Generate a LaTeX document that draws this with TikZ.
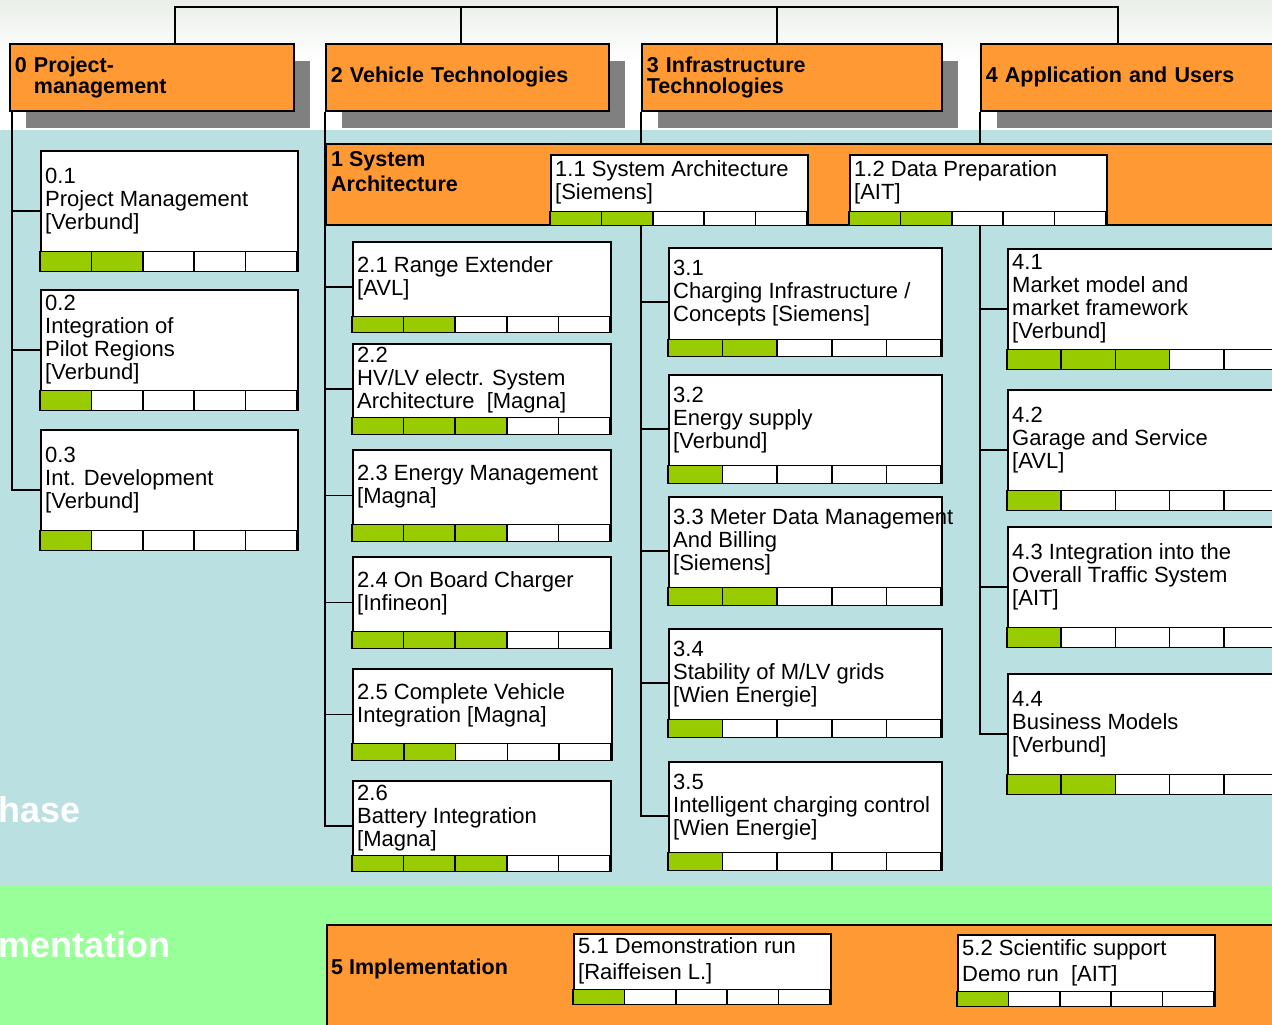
\documentclass[tikz,border=0pt]{standalone}
\usepackage{fontspec}
\setmainfont{Liberation Sans}
\usetikzlibrary{shadows}

\definecolor{wporange}{RGB}{255,153,51}
\definecolor{wpgreen}{RGB}{153,204,0}
\definecolor{bgblue}{RGB}{186,224,226}
\definecolor{bggreen}{RGB}{153,255,153}
\definecolor{bgtop}{RGB}{234,239,232}
\definecolor{shadowgray}{RGB}{128,128,128}

% work package: name, north west corner, width, height, bar height, done cells, text
\newcommand{\wpbox}[7]{%
  \node[wp, minimum width=#3pt, minimum height=#4pt] (#1) at #2 {};
  \node[wptext, yshift={#5pt/2}] (#1t) at (#1.west) {#7};
  \foreach \i in {1,...,5}{
    \ifnum\i>#6\relax \def\cellcol{white}\else \def\cellcol{wpgreen}\fi
    \draw[cell, fill=\cellcol] (#1.south west) ++({(\i-1)*#3/5},0) rectangle ++({#3/5},-#5);
  }
}

\begin{document}
\begin{tikzpicture}
        [x=1pt, y=-1pt,
        head/.style={draw, fill=wporange, line width=1.6pt, anchor=north west, minimum height=67pt, inner xsep=5pt, align=left,
          font=\bfseries\fontsize{21.5}{21}\selectfont,
          drop shadow={shadow xshift=16pt, shadow yshift=-17pt, fill=shadowgray, opacity=1}},
        band/.style={draw, fill=wporange, line width=1.6pt, anchor=north west, inner sep=0pt},
        bandtext/.style={align=left, inner sep=0pt, font=\bfseries\fontsize{21.5}{25}\selectfont},
        wp/.style={draw, fill=white, line width=1.6pt, anchor=north west, inner sep=0pt},
        wptext/.style={anchor=west, align=left, inner sep=0pt, xshift=5pt, font=\fontsize{22}{23}\selectfont},
        cell/.style={draw, line width=1.6pt},
        phase/.style={anchor=base west, inner sep=0pt, text=white, font=\bfseries\fontsize{36}{36}\selectfont},
        link/.style={draw, line width=1.4pt}]
        \useasboundingbox (0,0) rectangle (1272,1025);
        \clip (0,0) rectangle (1272,1025);
        % background
        \fill[white] (0,0) rectangle (1272,130);
        \shade[top color=bgtop, bottom color=white] (0,0) rectangle (1272,60);
        \fill[bgblue] (0,130) rectangle (1272,885);
        \fill[bggreen] (0,885) rectangle (1272,1025);
        % main work packages
        \node[head, text width=274pt] (h0) at (9,43) {0 Project-\\\phantom{0 }management};
        \node[head, text width=273pt] (h2) at (325,43) {2 Vehicle Technologies};
        \node[head, text width=290pt] (h3) at (641,43) {3 Infrastructure\\Technologies};
        \node[head, text width=300pt] (h4) at (980,43) {4 Application and Users};
        \coordinate (root) at (640,7);
        \draw[link] (root) -| ([xshift=166pt]h0.north west);
        \draw[link] (root) -| ([xshift=136pt]h2.north west);
        \draw[link] (root) -| ([xshift=136pt]h3.north west);
        \draw[link] (root) -| ([xshift=138pt]h4.north west);
        % column 0
        \wpbox{01}{(40,150)}{257}{120}{20}{2}{0.1\\Project Management\\{}[Verbund]}
        \wpbox{02}{(40,289)}{257}{120}{20}{1}{0.2\\Integration of\\Pilot Regions\\{}[Verbund]}
        \wpbox{03}{(40,429)}{257}{120}{20}{1}{0.3\\Int. Development\\{}[Verbund]}
        % column 2
        \wpbox{21}{(352,241)}{258}{90}{16}{2}{2.1 Range Extender\\{}[AVL]}
        \wpbox{22}{(352,343)}{258}{90}{17}{3}{2.2\\HV/LV electr. System\\Architecture\ \ [Magna]}
        \wpbox{23}{(352,449)}{258}{91}{17}{3}{2.3 Energy Management\\{}[Magna]}
        \wpbox{24}{(352,556)}{258}{91}{17}{3}{2.4 On Board Charger\\{}[Infineon]}
        \wpbox{25}{(352,668)}{259}{91}{17}{2}{2.5 Complete Vehicle\\Integration [Magna]}
        \wpbox{26}{(352,780)}{258}{90}{16}{3}{2.6\\Battery Integration\\{}[Magna]}
        % column 3
        \wpbox{31}{(668,247)}{273}{108}{17}{2}{3.1\\Charging Infrastructure /\\Concepts [Siemens]}
        \wpbox{32}{(668,374)}{273}{108}{18}{1}{3.2\\Energy supply\\{}[Verbund]}
        \wpbox{33}{(668,496)}{273}{108}{18}{2}{3.3 Meter Data Management\\And Billing\\{}[Siemens]}
        \wpbox{34}{(668,628)}{273}{108}{18}{1}{3.4\\Stability of M/LV grids\\{}[Wien Energie]}
        \wpbox{35}{(668,761)}{273}{108}{18}{1}{3.5\\Intelligent charging control\\{}[Wien Energie]}
        % column 4
        \wpbox{41}{(1007,248)}{271}{120}{20}{3}{4.1\\Market model and\\market framework\\{}[Verbund]}
        \wpbox{42}{(1007,389)}{271}{120}{20}{1}{4.2\\Garage and Service\\{}[AVL]}
        \wpbox{43}{(1007,526)}{271}{120}{20}{1}{4.3 Integration into the\\Overall Traffic System\\{}[AIT]}
        \wpbox{44}{(1007,673)}{271}{120}{20}{2}{4.4\\Business Models\\{}[Verbund]}
        % tree lines
        \foreach \n in {01,02,03} \draw[link] ([xshift=3pt]h0.south west) |- (\n.west);
        \foreach \n in {21,22,23,24,25,26} \draw[link] (h2.south west) |- (\n.west);
        \foreach \n in {31,32,33,34,35} \draw[link] (h3.south west) |- (\n.west);
        \foreach \n in {41,42,43,44} \draw[link] (h4.south west) |- (\n.west);
        % system architecture band
        \node[band, minimum width=960pt, minimum height=81pt] (sa) at (325,143) {};
        \node[bandtext, anchor=north west] (sat) at ([xshift=6pt, yshift=-8pt]sa.north west) {1 System\\Architecture};
        \wpbox{11}{(550,154)}{257}{70}{14}{2}{1.1 System Architecture\\{}[Siemens]}
        \wpbox{12}{(849,154)}{257}{70}{14}{2}{1.2 Data Preparation\\{}[AIT]}
        % implementation band
        \node[band, minimum width=960pt, minimum height=110pt] (imp) at (326,924) {};
        \node[bandtext, anchor=base west] (impt) at ([xshift=5pt, yshift=-50pt]imp.north west) {5 Implementation};
        \wpbox{51}{(573,933)}{257}{70}{15}{1}{5.1 Demonstration run\\[3pt][Raiffeisen L.]}
        \wpbox{52}{(957,934)}{257}{71}{15}{1}{5.2 Scientific support\\[3pt]Demo run\ \ [AIT]}
        % phase labels
        \node[phase] (plan) at (-2,822) {hase};
        \node[phase] (impl) at (-2,957) {mentation};
    \end{tikzpicture}
\end{document}
